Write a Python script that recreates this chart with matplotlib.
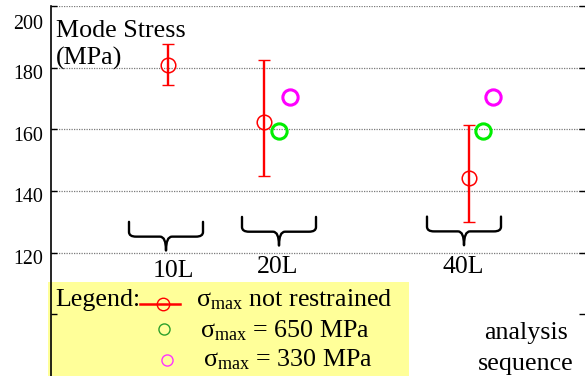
import matplotlib
matplotlib.use("Agg")
import matplotlib.pyplot as plt
from matplotlib.path import Path
from matplotlib.patches import PathPatch, Rectangle
from matplotlib.lines import Line2D

plt.rcParams["font.family"] = ["Liberation Serif", "DejaVu Serif"]
plt.rcParams["mathtext.fontset"] = "custom"
plt.rcParams["mathtext.rm"] = "Liberation Serif"
plt.rcParams["mathtext.it"] = "Liberation Serif:italic"

# ---- data ----
groups = ["10L", "20L", "40L"]
mode_stress = [180.9, 162.4, 144.2]          # sigma_max not restrained
stress_high = [187.7, 182.5, 161.4]
stress_low = [174.4, 144.9, 130.0]
groups_650 = ["20L", "40L"]
mode_650 = [159.5, 159.5]                    # sigma_max = 650 MPa
groups_330 = ["20L", "40L"]
mode_330 = [170.5, 170.5]                    # sigma_max = 330 MPa
ytick_vals = [100, 120, 140, 160, 180, 200]
ytick_labels = ["", "120", "140", "160", "180", "200"]
grid_vals = [120, 140, 160, 180, 200]

# ---- layout ----
W, H = 585, 376
group_x = {"10L": 1.15, "20L": 2.28, "40L": 4.13}
red_x = {"10L": 1.17, "20L": 2.13, "40L": 4.18}
x_650 = {"20L": 2.28, "40L": 4.32}
x_330 = {"20L": 2.39, "40L": 4.42}
label_x = {"10L": 1.22, "20L": 2.27, "40L": 4.12}
label_y = {"10L": 112.1, "20L": 113.4, "40L": 113.4}
brace_top = {"10L": 130.0, "20L": 131.6, "40L": 131.7}

fig = plt.figure(figsize=(W / 100, H / 100), dpi=100)
ax = fig.add_axes([51 / W, 0, 534 / W, 370 / H])
ax.set_xlim(0, 5.34)
ax.set_ylim(80, 200)
ax.patch.set_alpha(0)

for s in ("top", "right", "bottom"):
    ax.spines[s].set_visible(False)
ax.spines["left"].set_linewidth(1.2)
ax.spines["left"].set_zorder(5)
ax.set_xticks([])
ax.set_yticks(ytick_vals)
ax.set_yticklabels([])
ax.tick_params(axis="y", which="both", direction="in", length=4, width=1,
               left=True, right=True, zorder=5)

for v in grid_vals:
    ax.axhline(v, color="#7a7a7a", lw=0.9, ls=(0, (1, 1)), zorder=1)

# y tick labels sit a little below their lines
for v, lab in zip(ytick_vals, ytick_labels):
    dy = -19 if v == max(ytick_vals) else -7
    ax.annotate(lab, xy=(0, v), xycoords=("axes fraction", "data"),
                xytext=(-8, dy), textcoords="offset pixels",
                ha="right", va="center", fontsize=14.4, annotation_clip=False)

# legend panel
ax.add_patch(Rectangle((-3 / 534, 0), (409 - 48) / 534, (376 - 282) / 370,
                       transform=ax.transAxes, facecolor="#ffff99",
                       edgecolor="none", zorder=0.5, clip_on=False))

# red: mode stress with range
xr = [red_x[g] for g in groups]
yerr = [[m - lo for m, lo in zip(mode_stress, stress_low)],
        [hi - m for m, hi in zip(mode_stress, stress_high)]]
ax.errorbar(xr, mode_stress, yerr=yerr, fmt="none", ecolor="#ff0000",
            elinewidth=1.7, capsize=4, capthick=1.0, zorder=3)
ax.plot(xr, mode_stress, ls="none", marker="o", ms=10.5, mfc="none",
        mec="#ff0000", mew=1.1, zorder=4)

ax.plot([x_650[g] for g in groups_650], mode_650, ls="none", marker="o",
        ms=11, mfc="none", mec="#00ee00", mew=2.2, zorder=4)
ax.plot([x_330[g] for g in groups_330], mode_330, ls="none", marker="o",
        ms=11, mfc="none", mec="#ff00ff", mew=2.2, zorder=4)


def brace(c, top, half=0.37, drop=4.8, depth=9.3, rx=0.07, tip_rx=0.06):
    yh = top - drop
    yb = top - depth
    verts = [
        (c - half, top), (c - half, yh + 1.5),
        (c - half, yh), (c - half + rx, yh),
        (c - tip_rx, yh),
        (c, yh), (c, yb),
        (c, yh), (c + tip_rx, yh),
        (c + half - rx, yh),
        (c + half, yh), (c + half, yh + 1.5),
        (c + half, top),
    ]
    codes = [Path.MOVETO, Path.LINETO,
             Path.CURVE3, Path.CURVE3,
             Path.LINETO,
             Path.CURVE3, Path.CURVE3,
             Path.CURVE3, Path.CURVE3,
             Path.LINETO,
             Path.CURVE3, Path.CURVE3,
             Path.LINETO]
    return PathPatch(Path(verts, codes), facecolor="none", edgecolor="black",
                     lw=1.7, zorder=3, capstyle="round", joinstyle="round")


for g in groups:
    ax.add_patch(brace(group_x[g], brace_top[g]))
    ax.text(label_x[g], label_y[g], g, ha="center", va="baseline", fontsize=18.5)


def ftext(x, y, s, **kw):
    fig.text(x / W, 1 - y / H, s, va="baseline", **kw)


ftext(56, 37, "Mode Stress", fontsize=18.7)
ftext(56, 65, "(MPa)", fontsize=18.7)

sig = r"$\mathrm{\sigma}_{\mathrm{max}}$"
ftext(55, 306, "Legend:", fontsize=18.7)
ftext(196, 306, sig + " not restrained", fontsize=18.7)
ftext(200, 337, sig + " = 650 MPa", fontsize=18.7)
ftext(203, 366, sig + " = 330 MPa", fontsize=18.7)
ftext(526, 339, "analysis", fontsize=18.7, ha="center")
ftext(526, 370, "sequence", fontsize=18.7, ha="center")

# legend swatches
fig.add_artist(Line2D([140 / W, 180 / W], [1 - 304 / H] * 2, color="#ff0000",
                      lw=1.8))
fig.add_artist(Line2D([163 / W], [1 - 304 / H], ls="none", marker="o", ms=9,
                      mfc="none", mec="#ff0000", mew=1.0))
fig.add_artist(Line2D([164 / W], [1 - 329 / H], ls="none", marker="o", ms=8,
                      mfc="none", mec="#2ca02c", mew=1.0))
fig.add_artist(Line2D([167 / W], [1 - 360 / H], ls="none", marker="o", ms=8,
                      mfc="none", mec="#ff33ff", mew=1.0))

fig.savefig("out.png", dpi=100)
